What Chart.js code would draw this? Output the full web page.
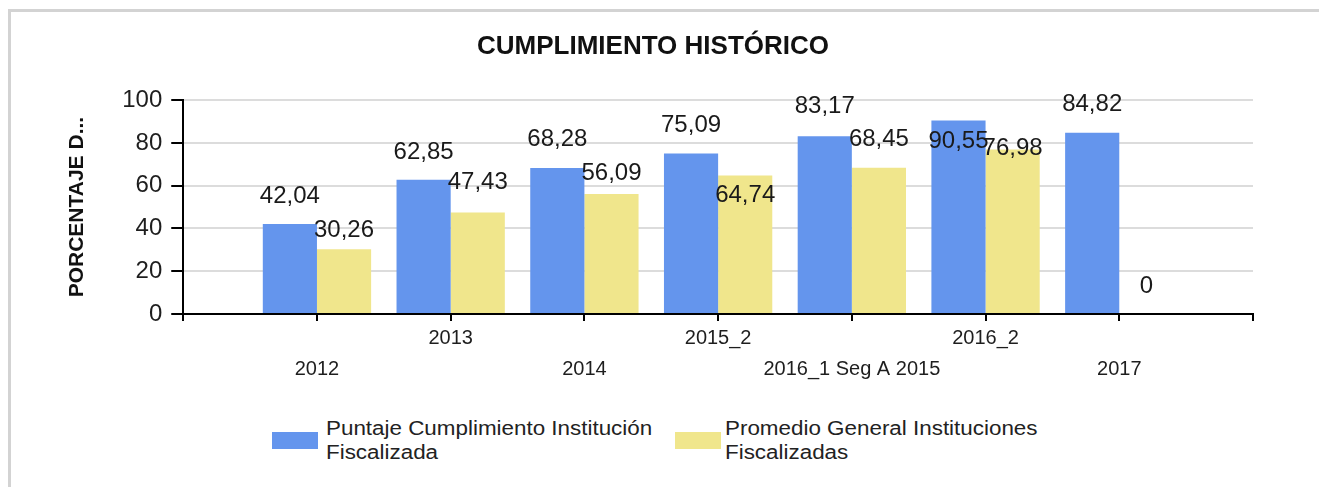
<!DOCTYPE html>
<html>
<head>
<meta charset="utf-8">
<script src="https://cdn.jsdelivr.net/npm/chart.js@4/dist/chart.umd.min.js"></script>
<style>
  body { margin: 0; background: #fff; font-family: 'Liberation Sans', Arial, sans-serif; }
  .frame { position: absolute; left: 8px; top: 9px; width: 1320px; height: 490px;
           border-left: 3px solid #d3d3d3; border-top: 3px solid #d3d3d3; }
  .chart-box { position: absolute; left: 0; top: 0; width: 1305px; height: 395px; }
  .legend { position: absolute; top: 416px; left: 0; width: 1319px; }
  .legend .item { position: absolute; top: 0; display: flex; align-items: center; }
  .legend .swatch { width: 46px; height: 17px; }
  .legend .txt { font-size: 20px; line-height: 24px; color: #222; white-space: nowrap;
                 transform: scaleX(1.12); transform-origin: left center; }
</style>
</head>
<body>
<div class="frame"></div>
<div class="chart-box"><canvas id="chart-hist"></canvas></div>
<div class="legend" id="legend"></div>
<script>
// categorias y valores
const categorias = ['2012', '2013', '2014', '2015_2', '2016_1 Seg A 2015', '2016_2', '2017'];
const puntajeInstitucion = [42.04, 62.85, 68.28, 75.09, 83.17, 90.55, 84.82];
const promedioGeneral = [30.26, 47.43, 56.09, 64.74, 68.45, 76.98, 0];
const nombresSeries = [
  ['Puntaje Cumplimiento Institución', 'Fiscalizada'],
  ['Promedio General Instituciones', 'Fiscalizadas']
];
const coloresSeries = ['#6495ED', '#F0E68C'];
const ticksY = [0, 20, 40, 60, 80, 100];

// desplazamiento de cada etiqueta respecto al tope de la barra (px)
const labelShift = [
  [-28, -27, -29, -28, -30, 21, -28],
  [-19, -30, -21, 20, -28, -1, -28]
];

// eje con una categoria vacia a cada lado, como en el original
const pad = arr => [null, ...arr, null];
const etiquetas = ['', ...categorias, ''];

const formatoValor = v => String(v).replace('.', ',');

const valueLabels = {
  id: 'valueLabels',
  afterDatasetsDraw(chart) {
    const ctx = chart.ctx;
    ctx.save();
    ctx.font = '24px "Liberation Sans", Arial, sans-serif';
    ctx.fillStyle = '#1a1a1a';
    ctx.textAlign = 'center';
    ctx.textBaseline = 'middle';
    chart.data.datasets.forEach((ds, di) => {
      const meta = chart.getDatasetMeta(di);
      meta.data.forEach((bar, i) => {
        const v = ds.data[i];
        if (v === null || v === undefined) return;
        const shift = labelShift[di][i - 1];
        ctx.fillText(formatoValor(v), bar.x, bar.y + shift);
      });
    });
    ctx.restore();
  }
};

Chart.defaults.font.family = '"Liberation Sans", Arial, sans-serif';
Chart.defaults.color = '#1e1e1e';

const ctx = document.getElementById('chart-hist').getContext('2d');
const chart = new Chart(ctx, {
  type: 'bar',
  data: {
    labels: etiquetas,
    datasets: [
      { label: nombresSeries[0].join(' '), data: pad(puntajeInstitucion), backgroundColor: coloresSeries[0] },
      { label: nombresSeries[1].join(' '), data: pad(promedioGeneral), backgroundColor: coloresSeries[1] }
    ]
  },
  options: {
    responsive: true,
    maintainAspectRatio: false,
    animation: false,
    datasets: { bar: { categoryPercentage: 0.81, barPercentage: 1.0 } },
    layout: { padding: { left: 53, right: 52, top: 0, bottom: 8 } },
    plugins: {
      legend: { display: false },
      tooltip: { enabled: false },
      title: {
        display: true,
        text: 'CUMPLIMIENTO HISTÓRICO',
        color: '#111',
        font: { size: 26, weight: 'bold' },
        padding: { top: 31, bottom: 38 }
      }
    },
    scales: {
      x: {
        type: 'category',
        offset: false,
        border: { color: '#000', width: 2 },
        grid: { display: true, offset: false, drawOnChartArea: false, drawTicks: true, tickLength: 7, tickColor: '#000', lineWidth: 2 },
        ticks: {
          autoSkip: false,
          maxRotation: 0,
          minRotation: 0,
          padding: 2,
          color: '#1e1e1e',
          font: { size: 20, lineHeight: 1.55 },
          callback: (val, idx) => {
            const t = etiquetas[idx];
            if (!t) return '';
            return (idx - 1) % 2 === 0 ? ['', t] : t;
          }
        }
      },
      y: {
        min: 0,
        max: 100,
        afterBuildTicks: axis => { axis.ticks = ticksY.map(v => ({ value: v })); },
        border: { color: '#000', width: 2 },
        grid: { color: '#dcdcdc', lineWidth: 2, tickColor: '#000', tickLength: 12 },
        ticks: { padding: 9, color: '#1e1e1e', font: { size: 24 } },
        title: {
          display: true,
          text: 'PORCENTAJE D...',
          color: '#111',
          font: { size: 21, weight: 'bold' },
          padding: { top: 12, bottom: 23 }
        }
      }
    }
  },
  plugins: [valueLabels]
});

// leyenda en dos lineas, como en el original
const legendEl = document.getElementById('legend');
const legendLeft = [272, 675];
const legendGap = [8, 4];
nombresSeries.forEach((lineas, i) => {
  const item = document.createElement('div');
  item.className = 'item';
  item.style.left = legendLeft[i] + 'px';
  item.innerHTML = '<div class="swatch" style="background:' + coloresSeries[i] +
    ';margin-right:' + legendGap[i] + 'px"></div>' +
    '<div class="txt">' + lineas.join('<br>') + '</div>';
  legendEl.appendChild(item);
});
</script>
</body>
</html>
